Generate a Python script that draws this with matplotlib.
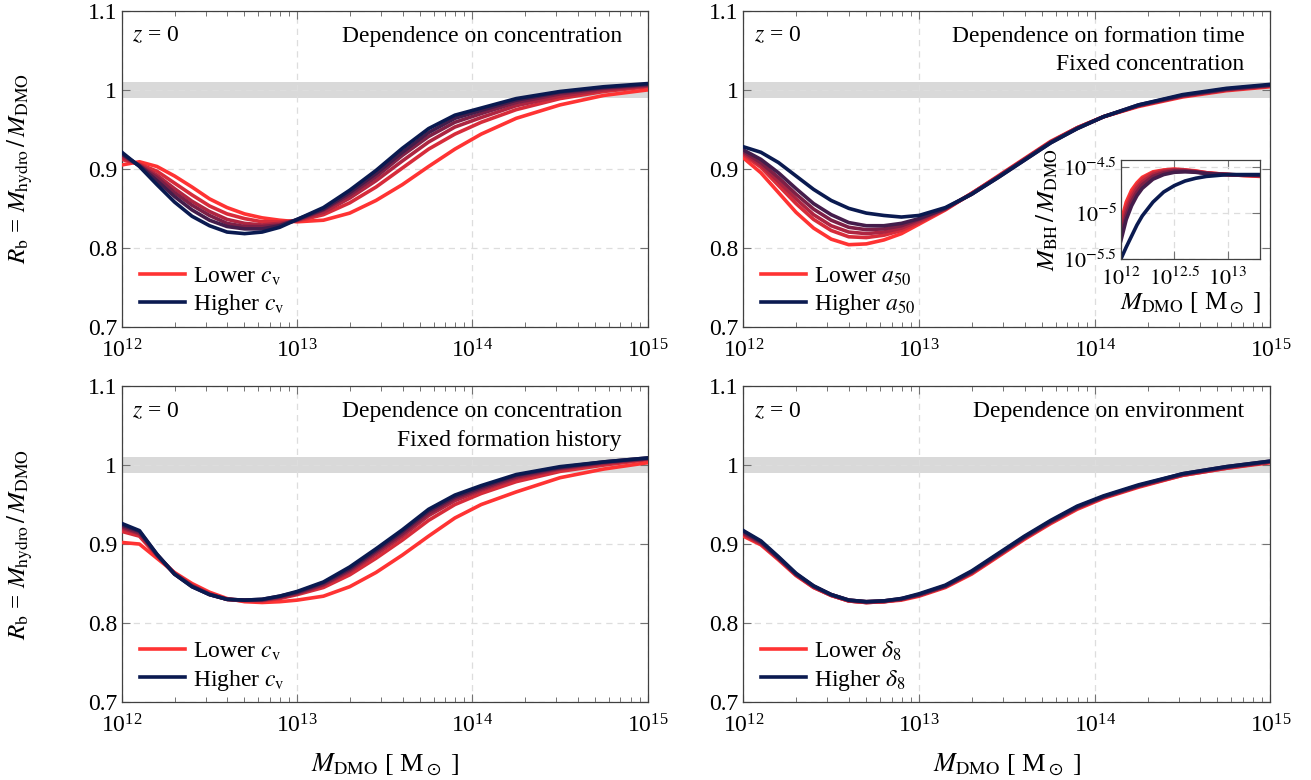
import numpy as np
import matplotlib
matplotlib.use('Agg')
import matplotlib.pyplot as plt
import matplotlib.ticker as mticker
from matplotlib.colors import LinearSegmentedColormap

plt.rcParams['font.family'] = ['Liberation Serif', 'DejaVu Serif']
plt.rcParams['mathtext.fontset'] = 'stix'
plt.rcParams['font.size'] = 17

# log10 of M_DMO [Msun]
logm = [12.0, 12.1, 12.2, 12.3, 12.4, 12.5, 12.6, 12.7, 12.8, 12.9, 13.0,
        13.15, 13.3, 13.45, 13.6, 13.75, 13.9, 14.05, 14.25, 14.5, 14.75, 15.0]

# panel 1: dependence on concentration (lower c_v -> higher c_v)
conc = [
    [0.905, 0.909, 0.903, 0.891, 0.877, 0.862, 0.851, 0.843, 0.838, 0.835, 0.833,
     0.835, 0.844, 0.860, 0.880, 0.903, 0.925, 0.944, 0.964, 0.981, 0.993, 1.000],
    [0.912, 0.906, 0.897, 0.882, 0.867, 0.853, 0.843, 0.837, 0.833, 0.833, 0.834,
     0.842, 0.857, 0.877, 0.901, 0.925, 0.944, 0.959, 0.975, 0.989, 0.998, 1.004],
    [0.915, 0.905, 0.892, 0.875, 0.859, 0.846, 0.836, 0.831, 0.829, 0.831, 0.835,
     0.845, 0.863, 0.885, 0.910, 0.934, 0.953, 0.965, 0.980, 0.992, 1.000, 1.005],
    [0.918, 0.904, 0.889, 0.870, 0.854, 0.841, 0.831, 0.827, 0.827, 0.829, 0.835,
     0.848, 0.867, 0.890, 0.917, 0.941, 0.959, 0.970, 0.984, 0.995, 1.002, 1.006],
    [0.919, 0.904, 0.885, 0.865, 0.848, 0.835, 0.827, 0.824, 0.824, 0.828, 0.836,
     0.849, 0.870, 0.894, 0.921, 0.946, 0.964, 0.974, 0.987, 0.997, 1.003, 1.007],
    [0.921, 0.903, 0.880, 0.858, 0.840, 0.828, 0.820, 0.818, 0.820, 0.826, 0.836,
     0.851, 0.873, 0.898, 0.926, 0.951, 0.968, 0.977, 0.989, 0.998, 1.004, 1.008],
]

# panel 2: dependence on formation time, fixed concentration (lower a50 -> higher a50)
form = [
    [0.914, 0.895, 0.870, 0.845, 0.825, 0.811, 0.804, 0.805, 0.810, 0.818, 0.830,
     0.848, 0.869, 0.891, 0.913, 0.935, 0.952, 0.966, 0.979, 0.991, 0.999, 1.004],
    [0.918, 0.902, 0.879, 0.856, 0.836, 0.822, 0.814, 0.813, 0.816, 0.822, 0.832,
     0.849, 0.869, 0.890, 0.912, 0.934, 0.952, 0.966, 0.980, 0.992, 1.000, 1.005],
    [0.920, 0.905, 0.884, 0.862, 0.842, 0.828, 0.820, 0.818, 0.820, 0.825, 0.834,
     0.849, 0.869, 0.890, 0.912, 0.934, 0.952, 0.966, 0.980, 0.992, 1.000, 1.005],
    [0.922, 0.908, 0.889, 0.868, 0.849, 0.835, 0.826, 0.823, 0.824, 0.828, 0.836,
     0.850, 0.868, 0.890, 0.912, 0.934, 0.951, 0.966, 0.980, 0.993, 1.001, 1.006],
    [0.924, 0.912, 0.895, 0.875, 0.856, 0.842, 0.832, 0.828, 0.828, 0.831, 0.837,
     0.850, 0.868, 0.889, 0.911, 0.933, 0.951, 0.966, 0.981, 0.993, 1.001, 1.006],
    [0.928, 0.921, 0.908, 0.891, 0.874, 0.860, 0.850, 0.844, 0.841, 0.839, 0.841,
     0.851, 0.868, 0.889, 0.911, 0.933, 0.951, 0.966, 0.981, 0.994, 1.002, 1.007],
]

# panel 3: dependence on concentration, fixed formation history
conc_fixed = [
    [0.902, 0.900, 0.882, 0.864, 0.850, 0.839, 0.831, 0.827, 0.826, 0.827, 0.829,
     0.834, 0.846, 0.864, 0.886, 0.910, 0.933, 0.950, 0.966, 0.984, 0.995, 1.003],
    [0.916, 0.910, 0.885, 0.863, 0.848, 0.837, 0.830, 0.828, 0.828, 0.831, 0.836,
     0.845, 0.861, 0.882, 0.905, 0.930, 0.950, 0.964, 0.979, 0.992, 1.000, 1.007],
    [0.920, 0.913, 0.886, 0.863, 0.847, 0.837, 0.830, 0.829, 0.829, 0.832, 0.837,
     0.848, 0.865, 0.887, 0.910, 0.936, 0.955, 0.968, 0.983, 0.995, 1.002, 1.008],
    [0.922, 0.914, 0.886, 0.862, 0.847, 0.836, 0.830, 0.829, 0.829, 0.833, 0.838,
     0.849, 0.867, 0.890, 0.913, 0.939, 0.958, 0.970, 0.985, 0.996, 1.003, 1.008],
    [0.924, 0.916, 0.887, 0.862, 0.846, 0.836, 0.830, 0.829, 0.830, 0.834, 0.839,
     0.851, 0.869, 0.892, 0.916, 0.942, 0.960, 0.972, 0.987, 0.997, 1.004, 1.009],
    [0.926, 0.917, 0.887, 0.862, 0.846, 0.836, 0.830, 0.829, 0.830, 0.834, 0.840,
     0.852, 0.871, 0.894, 0.918, 0.944, 0.962, 0.974, 0.988, 0.998, 1.004, 1.009],
]

# panel 4: dependence on environment (lower delta_8 -> higher delta_8)
env = [
    [0.910, 0.899, 0.880, 0.860, 0.845, 0.835, 0.828, 0.826, 0.827, 0.829, 0.834,
     0.845, 0.862, 0.884, 0.906, 0.926, 0.944, 0.958, 0.972, 0.987, 0.996, 1.003],
    [0.912, 0.900, 0.881, 0.861, 0.845, 0.835, 0.828, 0.826, 0.827, 0.830, 0.835,
     0.846, 0.863, 0.885, 0.907, 0.927, 0.945, 0.959, 0.973, 0.987, 0.996, 1.004],
    [0.913, 0.901, 0.882, 0.861, 0.846, 0.835, 0.828, 0.826, 0.827, 0.830, 0.835,
     0.846, 0.864, 0.886, 0.908, 0.928, 0.946, 0.959, 0.973, 0.988, 0.997, 1.004],
    [0.914, 0.902, 0.882, 0.862, 0.846, 0.836, 0.829, 0.827, 0.828, 0.830, 0.836,
     0.847, 0.864, 0.886, 0.908, 0.928, 0.946, 0.960, 0.974, 0.988, 0.997, 1.004],
    [0.916, 0.903, 0.883, 0.862, 0.847, 0.836, 0.829, 0.827, 0.828, 0.831, 0.836,
     0.847, 0.865, 0.887, 0.909, 0.929, 0.947, 0.960, 0.974, 0.989, 0.998, 1.005],
    [0.917, 0.904, 0.884, 0.863, 0.847, 0.836, 0.829, 0.827, 0.828, 0.831, 0.837,
     0.848, 0.866, 0.888, 0.910, 0.930, 0.948, 0.961, 0.975, 0.989, 0.998, 1.005],
]

# inset: log10(M_BH / M_DMO) vs log10 M_DMO (lower a50 -> higher a50)
inset_logm = [12.0, 12.05, 12.1, 12.15, 12.2, 12.3, 12.4, 12.5, 12.6, 12.7, 12.8,
              12.9, 13.0, 13.15, 13.3]
inset_bh = [
    [-5.10, -4.88, -4.75, -4.67, -4.61, -4.55, -4.53, -4.52, -4.53, -4.54, -4.56,
     -4.57, -4.58, -4.59, -4.60],
    [-5.15, -4.93, -4.79, -4.70, -4.63, -4.56, -4.535, -4.525, -4.53, -4.545, -4.56,
     -4.57, -4.58, -4.59, -4.595],
    [-5.20, -4.97, -4.83, -4.73, -4.66, -4.58, -4.545, -4.53, -4.535, -4.55, -4.565,
     -4.575, -4.58, -4.585, -4.59],
    [-5.25, -5.02, -4.87, -4.77, -4.69, -4.60, -4.56, -4.54, -4.54, -4.55, -4.565,
     -4.575, -4.58, -4.585, -4.59],
    [-5.30, -5.07, -4.92, -4.81, -4.73, -4.63, -4.58, -4.555, -4.55, -4.555, -4.57,
     -4.575, -4.58, -4.585, -4.585],
    [-5.50, -5.37, -5.25, -5.13, -5.03, -4.88, -4.77, -4.70, -4.65, -4.62, -4.60,
     -4.59, -4.58, -4.58, -4.58],
]

titles = [['Dependence on concentration'],
          ['Dependence on formation time', 'Fixed concentration'],
          ['Dependence on concentration', 'Fixed formation history'],
          ['Dependence on environment']]
leg_names = [r'c_{\rm v}', r'a_{50}', r'c_{\rm v}', r'\delta_8']
panels = [conc, form, conc_fixed, env]

cmap = LinearSegmentedColormap.from_list('rn', ['#ff3333', '#9a2244', '#0a1a50'])
cols = [cmap(i / 5) for i in range(6)]
lw = 2.6

fig = plt.figure(figsize=(13.11, 7.8), dpi=100)
pos = [[0.093, 0.581, 0.401, 0.405], [0.567, 0.581, 0.402, 0.405],
       [0.093, 0.100, 0.401, 0.405], [0.567, 0.100, 0.402, 0.405]]

def style_axis(ax):
    ax.tick_params(which='both', direction='in', top=True, right=True, color='0.45')
    ax.tick_params(which='major', length=6, width=0.8)
    ax.tick_params(which='minor', length=3.5, width=0.7)
    for s in ax.spines.values():
        s.set_color('0.25')
        s.set_linewidth(0.9)

xm = 10.0 ** np.array(logm)
for k, (p, data) in enumerate(zip(pos, panels)):
    ax = fig.add_axes(p)
    ax.set_xscale('log')
    ax.axhspan(0.99, 1.01, color='#d9d9d9', lw=0, zorder=0)
    for i, y in enumerate(data):
        lab = None
        if i == 0:
            lab = 'Lower $' + leg_names[k] + '$'
        elif i == 5:
            lab = 'Higher $' + leg_names[k] + '$'
        ax.plot(xm, y, color=cols[i], lw=lw, label=lab, solid_joinstyle='round', zorder=3)
    ax.set_xlim(1e12, 1e15)
    ax.set_ylim(0.7, 1.1)
    ax.set_yticks([0.7, 0.8, 0.9, 1.0, 1.1])
    ax.yaxis.set_major_formatter(mticker.FuncFormatter(lambda v, _: '%g' % round(v, 2)))
    ax.xaxis.set_major_locator(mticker.LogLocator(base=10, numticks=10))
    ax.xaxis.set_minor_locator(mticker.LogLocator(base=10, subs=np.arange(2, 10), numticks=20))
    ax.xaxis.set_minor_formatter(mticker.NullFormatter())
    ax.grid(True, which='major', ls=(0, (5, 4)), color='#dddddd', lw=0.9)
    style_axis(ax)
    ax.tick_params(axis='x', pad=9)
    ax.text(0.02, 0.92, '$z$ = 0', transform=ax.transAxes, va='center', ha='left')
    for j, t in enumerate(titles[k]):
        ax.text(0.951, 0.92 - 0.091 * j, t, transform=ax.transAxes, va='center', ha='right')
    ax.legend(loc='lower left', frameon=False, handlelength=1.9, handletextpad=0.35,
              labelspacing=0.2, borderaxespad=0.0, borderpad=0.0,
              bbox_to_anchor=(0.034, 0.03))
    if k in (0, 2):
        ax.set_ylabel(r'$R_{\rm b}$ = $M_{\rm hydro}\,/\,M_{\rm DMO}$', fontsize=18)
        ax.yaxis.set_label_coords(-0.165, 0.5)
    if k in (2, 3):
        ax.set_xlabel(r'$M_{\rm DMO}$ [ M$_\odot$ ]', fontsize=19, labelpad=10)

# inset with black hole mass ratio
axi = fig.add_axes([0.855, 0.668, 0.106, 0.127])
for i, y in enumerate(inset_bh):
    axi.plot(inset_logm, y, color=cols[i], lw=lw, solid_joinstyle='round')
axi.set_xlim(12.0, 13.3)
axi.set_ylim(-5.5, -4.42)
axi.set_xticks([12.0, 12.5, 13.0])
axi.set_xticklabels(['$10^{12}$', '$10^{12.5}$', '$10^{13}$'])
axi.set_yticks([-5.5, -5.0, -4.5])
axi.set_yticklabels(['$10^{-5.5}$', '$10^{-5}$', '$10^{-4.5}$'])
axi.grid(True, ls=(0, (5, 4)), color='#dddddd', lw=0.9)
style_axis(axi)
axi.tick_params(labelsize=16, pad=3)
axi.tick_params(axis='x', pad=6)
axi.set_ylabel(r'$M_{\rm BH}\,/\,M_{\rm DMO}$', fontsize=18, labelpad=2)
axi.set_xlabel(r'$M_{\rm DMO}$ [ M$_\odot$ ]', fontsize=18, labelpad=1)

plt.savefig('out.png', dpi=100)
